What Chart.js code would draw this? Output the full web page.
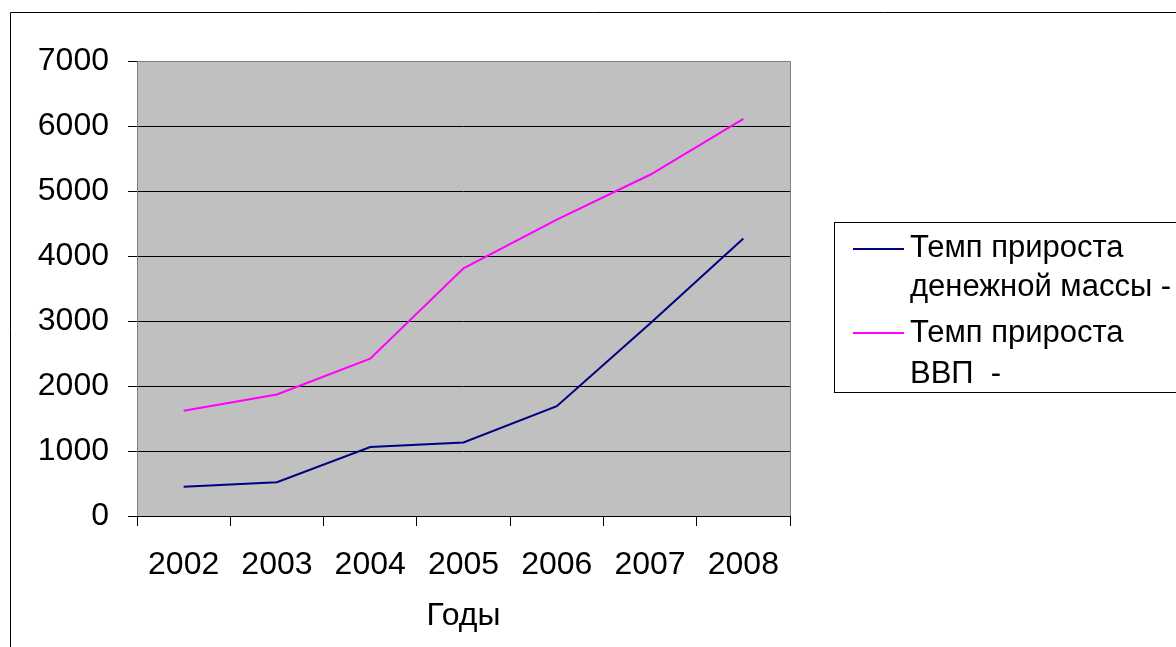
<!DOCTYPE html>
<html>
<head>
<meta charset="utf-8">
<script src="https://cdn.jsdelivr.net/npm/chart.js@4/dist/chart.umd.min.js"></script>
<style>
html,body{margin:0;padding:0;background:#fff;}
#wrap{width:1176px;height:647px;position:relative;}
</style>
</head>
<body>
<div id="wrap"><canvas id="chart" width="1176" height="647"></canvas></div>
<script>
const years = ["2002","2003","2004","2005","2006","2007","2008"];
const money = [450, 520, 1060, 1130, 1690, 2960, 4270];
const gdp = [1620, 1870, 2420, 3810, 4560, 5250, 6110];
const yTicks = [0, 1000, 2000, 3000, 4000, 5000, 6000, 7000];
const seriesNames = [
  ["Темп прироста", "денежной массы -"],
  ["Темп прироста", "ВВП  -"]
];
const axisTitle = "Годы";

const font = "Liberation Sans, Arial, sans-serif";

const frame = {
  id: "frame",
  beforeDraw(chart) {
    const ctx = chart.ctx;
    const a = chart.chartArea;
    ctx.save();
    ctx.fillStyle = "#fff";
    ctx.fillRect(0, 0, chart.width, chart.height);
    ctx.fillStyle = "#c0c0c0";
    ctx.fillRect(a.left, a.top, a.right - a.left, a.bottom - a.top);
    ctx.strokeStyle = "#000";
    ctx.lineWidth = 1;
    ctx.beginPath();
    ctx.moveTo(10.5, chart.height);
    ctx.lineTo(10.5, 12.5);
    ctx.lineTo(chart.width, 12.5);
    ctx.stroke();
    ctx.restore();
  },
  afterDatasetsDraw(chart) {
    const ctx = chart.ctx;
    const a = chart.chartArea;
    ctx.save();
    ctx.strokeStyle = "#808080";
    ctx.lineWidth = 1;
    ctx.beginPath();
    ctx.moveTo(a.left + 0.5, a.bottom);
    ctx.lineTo(a.left + 0.5, a.top + 0.5);
    ctx.lineTo(a.right + 0.5, a.top + 0.5);
    ctx.lineTo(a.right + 0.5, a.bottom);
    ctx.stroke();
    // legend
    ctx.strokeStyle = "#000";
    ctx.strokeRect(834.5, 222.5, 400, 170);
    ctx.font = "31px " + font;
    ctx.fillStyle = "#000";
    ctx.textBaseline = "alphabetic";
    const sampleY = [249, 333];
    const base = [[257, 296], [342, 383]];
    chart.data.datasets.forEach((ds, i) => {
      ctx.strokeStyle = ds.borderColor;
      ctx.lineWidth = 2;
      ctx.beginPath();
      ctx.moveTo(853, sampleY[i]);
      ctx.lineTo(904, sampleY[i]);
      ctx.stroke();
      seriesNames[i].forEach((t, j) => ctx.fillText(t, 910, base[i][j]));
    });
    ctx.restore();
  }
};

new Chart(document.getElementById("chart"), {
  type: "line",
  data: {
    labels: years,
    datasets: [
      {label: seriesNames[0].join(" "), data: money, borderColor: "#000080", borderWidth: 2, pointRadius: 0, tension: 0},
      {label: seriesNames[1].join(" "), data: gdp, borderColor: "#ff00ff", borderWidth: 2, pointRadius: 0, tension: 0}
    ]
  },
  options: {
    responsive: false,
    animation: false,
    layout: {padding: {left: 0, top: 61, right: 386, bottom: 0}},
    plugins: {legend: {display: false}, tooltip: {enabled: false}},
    scales: {
      x: {
        offset: true,
        grid: {offset: true, drawOnChartArea: false, color: "#000", tickLength: 10, tickColor: "#000"},
        border: {color: "#000", width: 1},
        ticks: {color: "#000", font: {family: font, size: 32}, padding: 20, maxRotation: 0, autoSkip: false},
        title: {display: true, text: axisTitle, color: "#000", font: {family: font, size: 32}, padding: {top: 0, bottom: 12}},
        afterFit(s) { s.height = 131; }
      },
      y: {
        min: 0,
        max: 7000,
        afterBuildTicks(s) { s.ticks = yTicks.map(v => ({value: v})); },
        grid: {color: "#000", tickLength: 9, tickColor: "#000"},
        border: {display: false},
        ticks: {color: "#000", font: {family: font, size: 32}, padding: 19, callback: v => String(v)},
        afterFit(s) { s.width = 137; }
      }
    }
  },
  plugins: [frame]
});
</script>
</body>
</html>
